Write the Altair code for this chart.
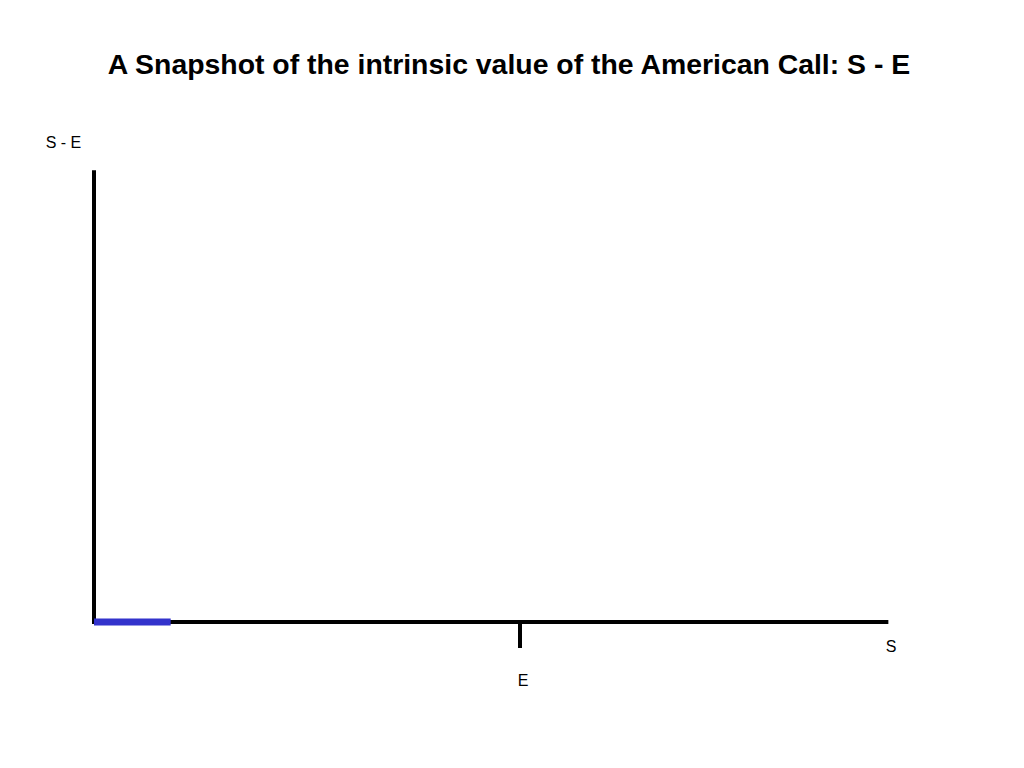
import altair as alt
import pandas as pd

# ---- content -------------------------------------------------------------
title_text = "A Snapshot of the intrinsic value of the American Call: S - E"
y_axis_label = "S - E"
x_axis_label = "S"
strike_label = "E"

strike = 50            # position of E on the S axis
s_axis_end = 93        # length of the S axis
y_axis_end = 52.8      # height of the (S - E) axis

# snapshot of the intrinsic value drawn so far (blue segment)
snapshot_s = [0, 9]
snapshot_value = [0, 0]

# ---- scales --------------------------------------------------------------
W, H = 1000, 744
PX = 8.52
x_dom = [-86 / PX, (W - 86) / PX]
y_dom = [-(H - 614) / PX, 614 / PX]
xs = alt.Scale(domain=x_dom, nice=False, zero=False)
ys = alt.Scale(domain=y_dom, nice=False, zero=False)

axes_df = pd.DataFrame({
    "x": [0, 0], "x2": [0, s_axis_end],
    "y": [0, 0], "y2": [y_axis_end, 0],
})
axes = alt.Chart(axes_df).mark_rule(color="black", strokeWidth=4, strokeCap="square").encode(
    x=alt.X("x:Q", scale=xs, axis=None),
    x2="x2:Q",
    y=alt.Y("y:Q", scale=ys, axis=None),
    y2="y2:Q",
)

snap_df = pd.DataFrame({"x": [snapshot_s[0]], "x2": [snapshot_s[1]],
                        "y": [snapshot_value[0]], "y2": [snapshot_value[1]]})
snap = alt.Chart(snap_df).mark_rule(color="#3333cc", strokeWidth=7).encode(
    x=alt.X("x:Q", scale=xs, axis=None),
    x2="x2:Q",
    y=alt.Y("y:Q", scale=ys, axis=None),
    y2="y2:Q",
)

tick_df = pd.DataFrame({"x": [strike], "y": [0]})
tick = alt.Chart(tick_df).mark_rule(color="black", strokeWidth=4).encode(
    x=alt.X("x:Q", scale=xs, axis=None),
    y=alt.Y("y:Q", scale=ys, axis=None),
    y2=alt.value(640),
)

e_df = pd.DataFrame({"x": [strike], "label": [strike_label]})
e_text = alt.Chart(e_df).mark_text(font="Liberation Sans", fontSize=16, baseline="middle",
                                    align="center", dx=3, color="black").encode(
    x=alt.X("x:Q", scale=xs, axis=None),
    y=alt.value(673),
    text="label:N",
)

def label(txt, x, y, size=16, bold=False):
    return alt.Chart(pd.DataFrame({"t": [txt]})).mark_text(
        font="Liberation Sans", fontSize=size, fontWeight="bold" if bold else "normal",
        baseline="middle", align="center", color="black"
    ).encode(x=alt.value(x), y=alt.value(y), text="t:N")

title = label(title_text, 501, 57, size=28.4, bold=True)
ylab = label(y_axis_label, 55.5, 135)
xlab = label(x_axis_label, 883, 639)

chart = alt.layer(axes, snap, tick, e_text, title, ylab, xlab).properties(
    width=W, height=H, autosize=alt.AutoSizeParams(type="none"), padding=0,
    background="white",
).configure_view(stroke=None)

chart.save("out.html", embed_options={"renderer": "svg", "actions": False})
